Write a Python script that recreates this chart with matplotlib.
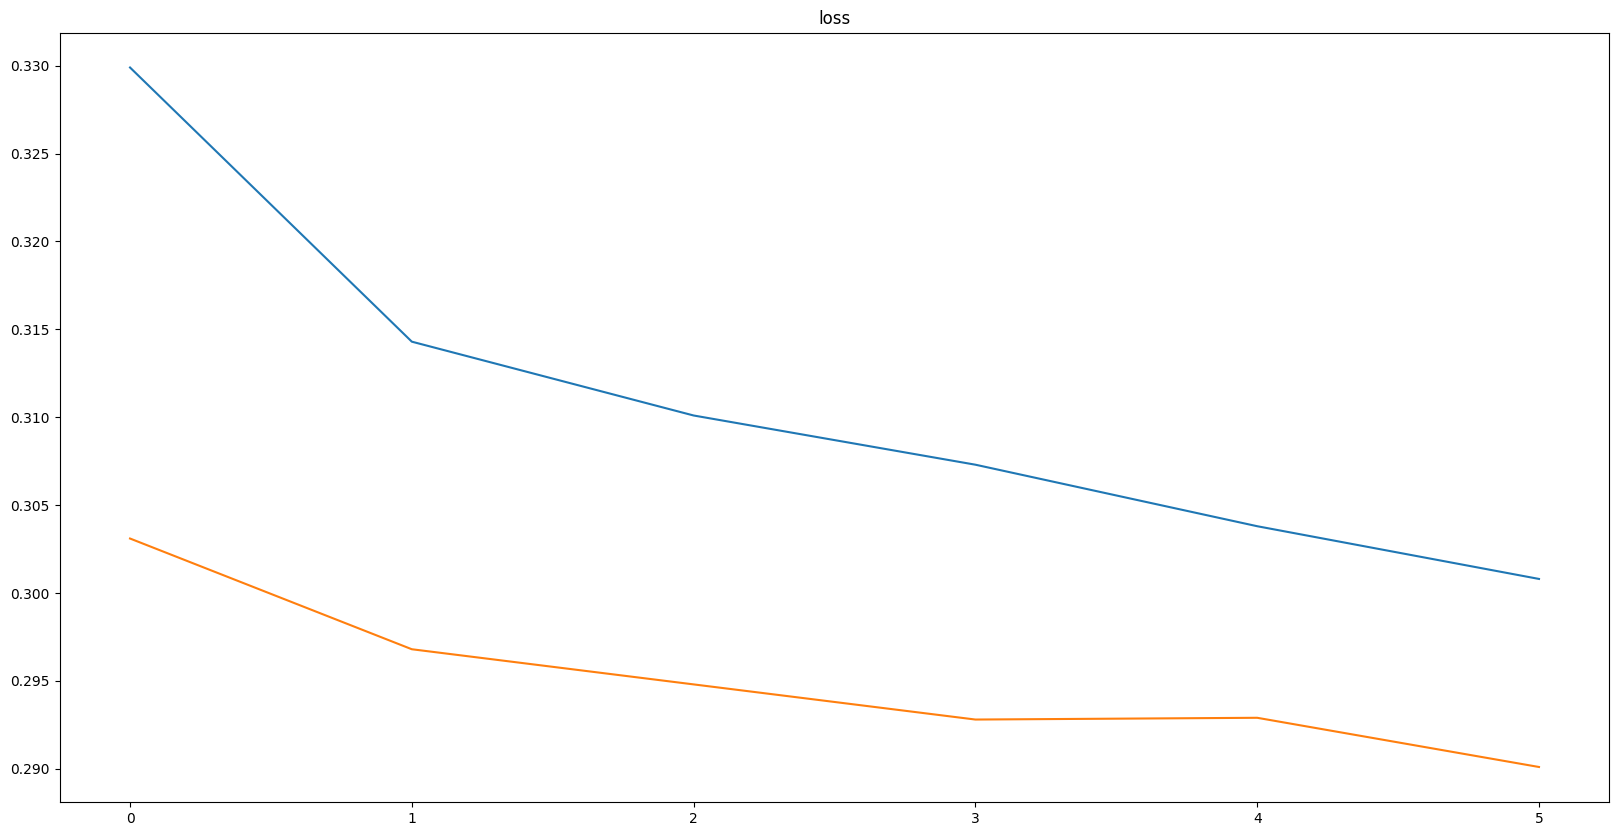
import matplotlib
matplotlib.use("Agg")
import matplotlib.pyplot as plt

epochs = [0, 1, 2, 3, 4, 5]
loss = [0.3299, 0.3143, 0.3101, 0.3073, 0.3038, 0.3008]
val_loss = [0.3031, 0.2968, 0.2948, 0.2928, 0.2929, 0.2901]

fig = plt.figure(figsize=(16.19, 8.36), dpi=100)
ax = fig.add_axes([0.0368, 0.0407, 0.9573, 0.9204])
ax.plot(epochs, loss)
ax.plot(epochs, val_loss)
ax.set_title("loss")
fig.savefig("out.png", dpi=100)
